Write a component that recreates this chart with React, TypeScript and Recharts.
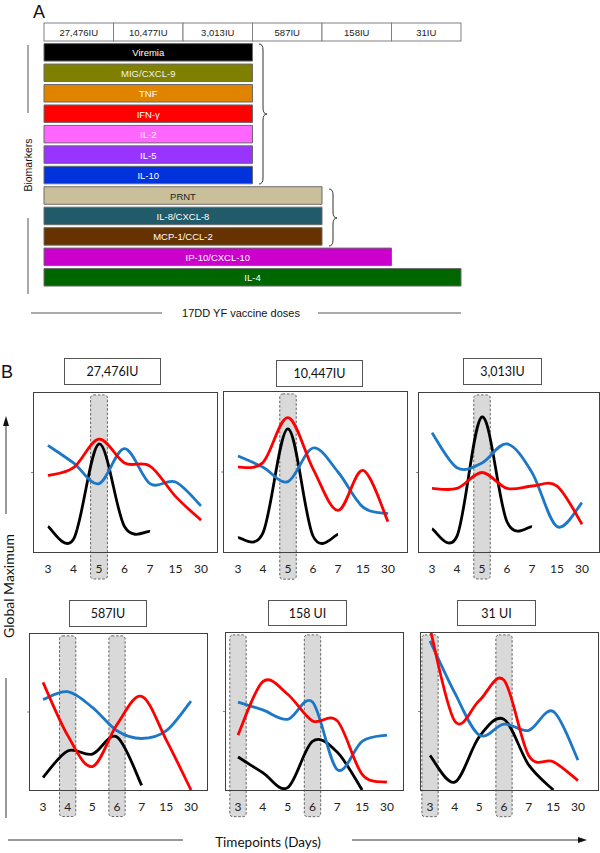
import React from "react";
import {
  BarChart,
  Bar,
  Cell,
  LabelList,
  LineChart,
  Line,
  XAxis,
  YAxis,
  ReferenceArea,
} from "recharts";

// ---- panel A data ----
const doseLabels = ["27,476IU", "10,477IU", "3,013IU", "587IU", "158IU", "31IU"];
const biomarkers = [
  "Viremia", "MIG/CXCL-9", "TNF", "IFN-γ", "IL-2", "IL-5", "IL-10",
  "PRNT", "IL-8/CXCL-8", "MCP-1/CCL-2", "IP-10/CXCL-10", "IL-4",
];
// how many dose columns each biomarker spans
const dosesCovered = [3, 3, 3, 3, 3, 3, 3, 4, 4, 4, 5, 6];

// ---- panel B data ----
const timepoints = ["3", "4", "5", "6", "7", "15", "30"];
const panelDoses = ["27,476IU", "10,447IU", "3,013IU", "587IU", "158 UI", "31 UI"];
const blackLine = [
  [16, 8, 68, 16, 13, null, null],
  [9, 12, 77, 10, 11, null, null],
  [14.5, 10, 85, 19, 16, null, null],
  [8, 25, 23, 34, 3, null, null],
  [21, 11, 1.5, 31, 24, 0, null],
  [22, 5, 34, 45, 16, 0, null],
]
const redLine = [
  [48, 53, 71, 56, 54, 35, 20],
  [53, 56, 84, 52, 26, 51, 19],
  [40, 40, 50, 40, 41.5, 41.5, 17.5],
  [69, 35, 15, 42, 60, 32, 0],
  [35, 69, 61, 44, 44, 10, 5],
  [103, 44, 57, 70, 22, 18, 6],
]
const blueLine = [
  [67, 56, 43, 65, 43, 44, 29],
  [60, 53, 44, 65, 50, 28, 24],
  [75, 53, 56, 68, 50, 16, 31],
  [58, 63, 53, 38, 33, 38, 57],
  [56, 51, 45, 56, 13, 31, 35],
  [95, 62, 35, 42, 38, 50, 19],
]
const highlightDays = [["5"], ["5"], ["5"], ["4", "6"], ["3", "6"], ["3", "6"]];

// ---- styles / layout ----
const barColors = [
  "#000000", "#7f7f00", "#e08400", "#ff0000", "#ff66ff", "#9933ff", "#0033dd",
  "#c9c09b", "#215a69", "#663300", "#cc00cc", "#006600",
];
const barInk = ["#fff", "#f2f2f2", "#fff", "#fff", "#fff", "#fff", "#fff", "#222", "#fff", "#fff", "#fff", "#fff"];

const panelBoxes = [
  { x0: 34, x1: 217, y0: 393, y1: 552, padL: 14, padR: 16, tick: 6, title: [64, 358, 97, 27] },
  { x0: 224, x1: 407, y0: 392, y1: 552, padL: 14, padR: 19, tick: 6, title: [276, 360, 87, 27] },
  { x0: 419, x1: 599, y0: 393, y1: 552, padL: 13, padR: 17, tick: 6, title: [463, 358, 79, 27] },
  { x0: 30, x1: 207, y0: 634, y1: 790, padL: 13, padR: 16, tick: 6, title: [69, 600, 78, 27] },
  { x0: 226, x1: 403, y0: 633, y1: 790, padL: 12, padR: 16, tick: 6, title: [268, 600, 79, 26] },
  { x0: 421, x1: 598, y0: 633, y1: 790, padL: 9, padR: 20, tick: 6, title: [457, 600, 79, 26] },
];

const FRAME = "#404040";
const BLUE = "#1c78c6";
const CAL = "Lato, 'Open Sans', sans-serif";
const ARIAL = "'Liberation Sans', Arial, sans-serif";

// Excel-like smoothed line (Catmull-Rom through the points)
const smoothCurve = (context: any) => {
  let pts: number[][] = [];
  return {
    areaStart() {},
    areaEnd() {},
    lineStart() {
      pts = [];
    },
    point(x: number, y: number) {
      pts.push([+x, +y]);
    },
    lineEnd() {
      if (!pts.length) return;
      context.moveTo(pts[0][0], pts[0][1]);
      for (let k = 0; k < pts.length - 1; k++) {
        const p0 = pts[k - 1] || pts[k];
        const p1 = pts[k];
        const p2 = pts[k + 1];
        const p3 = pts[k + 2] || p2;
        context.bezierCurveTo(
          p1[0] + (p2[0] - p0[0]) / 6, p1[1] + (p2[1] - p0[1]) / 6,
          p2[0] - (p3[0] - p1[0]) / 6, p2[1] - (p3[1] - p1[1]) / 6,
          p2[0], p2[1]
        );
      }
    },
  };
};

const BandShape = (p: any) => (
  <rect
    x={p.x} y={p.y} width={p.width} height={p.height} rx={3} ry={3}
    fill="#d9d9d9" stroke="#555" strokeWidth={0.9} strokeDasharray="2.5 1.8"
  />
);

const HEADER_W = 417 / 6;
const HeaderCell = (p: any) => {
  const label = doseLabels[Math.floor(p.payload.value)];
  return (
    <g>
      <rect x={p.x - HEADER_W / 2} y={23} width={HEADER_W} height={18} fill="#fff" stroke="#808080" strokeWidth={1} />
      <text x={p.x} y={32.5} textAnchor="middle" dominantBaseline="central" fontSize={9.5} fontFamily={ARIAL} fill="#222">
        {label}
      </text>
    </g>
  );
};

const BarName = (p: any) => (
  <text
    x={p.x + p.width / 2} y={p.y + p.height / 2 + 0.5} textAnchor="middle" dominantBaseline="central"
    fontSize={9.5} fontFamily={ARIAL} fill={barInk[p.index]}
  >
    {p.value}
  </text>
);

function PanelA() {
  const rows = biomarkers.map((name, k) => ({ name, doses: dosesCovered[k] }));
  return (
    <div style={{ position: "absolute", left: 0, top: 0 }}>
      <BarChart
        width={465} height={290} data={rows} layout="vertical"
        margin={{ top: 22, right: 4, bottom: 2, left: 44 }} barSize={17.5}
      >
        <XAxis
          type="number" orientation="top" domain={[0, 6]} ticks={[0.5, 1.5, 2.5, 3.5, 4.5, 5.5]}
          height={20.6} axisLine={false} tickLine={false} tick={HeaderCell} interval={0}
        />
        <YAxis type="category" dataKey="name" hide />
        <Bar dataKey="doses" stroke="#6b6b6b" strokeWidth={1} isAnimationActive={false}>
          {rows.map((r, k) => (
            <Cell key={r.name} fill={barColors[k]} />
          ))}
          <LabelList dataKey="name" content={BarName} />
        </Bar>
      </BarChart>
    </div>
  );
}

function DosePanel({ k }: { k: number }) {
  const lay = panelBoxes[k];
  const rows = timepoints.map((t, i) => ({
    i,
    black: blackLine[k][i],
    red: redLine[k][i],
    blue: blueLine[k][i],
  }));
  const w = lay.x1 - lay.x0;
  const h = lay.y1 - lay.y0;
  const mL = 1, yW = 4, mT = 2, mR = 3, xH = 32;
  const [tl, tt, tw, th] = lay.title;
  return (
    <>
      <div style={{ position: "absolute", left: lay.x0 - mL - yW, top: lay.y0 - mT }}>
        <LineChart
          width={w + mL + yW + mR} height={h + mT + xH} data={rows}
          margin={{ top: mT, right: mR, bottom: 0, left: mL }}
        >
          {highlightDays[k].map((d) => {
            const c = timepoints.indexOf(d);
            return (
              <ReferenceArea
                key={d} x1={c - 0.33} x2={c + 0.33} y1={-17} y2={98.8}
                ifOverflow="visible" shape={BandShape}
              />
            );
          })}
          <Line dataKey="black" type={smoothCurve as any} stroke="#000" strokeWidth={2.8} dot={false} isAnimationActive={false} />
          <Line dataKey="blue" type={smoothCurve as any} stroke={BLUE} strokeWidth={2.8} dot={false} isAnimationActive={false} />
          <Line dataKey="red" type={smoothCurve as any} stroke="#ff0000" strokeWidth={2.8} dot={false} isAnimationActive={false} />
          <XAxis
            dataKey="i" type="number" domain={[0, 6]} ticks={timepoints.map((_, i) => i)} interval={0}
            tickFormatter={(v: number) => timepoints[v]} padding={{ left: lay.padL, right: lay.padR }}
            height={xH} tickLine={false} tickMargin={lay.tick} axisLine={false}
            tick={{ fontSize: 12, fontFamily: CAL, fill: "#222" }}
          />
          <YAxis
            domain={[0, 100]} ticks={[50]} allowDataOverflow tickFormatter={() => ""} tickSize={3} width={yW}
            axisLine={false} tickLine={{ stroke: "#888" }}
          />
        </LineChart>
      </div>
      <div
        style={{
          position: "absolute", left: lay.x0 - 0.7, top: lay.y0 - 0.7, width: w + 1.4, height: h + 1.4,
          boxSizing: "border-box", border: `1.4px solid ${FRAME}`, pointerEvents: "none",
        }}
      />
      <div
        style={{
          position: "absolute", left: tl, top: tt, width: tw, height: th, boxSizing: "border-box",
          border: "1.5px solid #555", background: "#fff", display: "flex", alignItems: "center",
          justifyContent: "center", fontFamily: CAL, fontSize: 12.5, color: "#111",
        }}
      >
        {panelDoses[k]}
      </div>
    </>
  );
}

function Annotations() {
  const ink = "#333";
  return (
    <svg width={600} height={853} style={{ position: "absolute", left: 0, top: 0, pointerEvents: "none" }}>
      <text x={33} y={18} fontSize={18} fontFamily={ARIAL} fill="#111">A</text>
      {/* braces */}
      <path d="M259,44 Q263,44 263,50 L263,108 Q263,114 267,114 Q263,114 263,120 L263,178 Q263,184 259,184" fill="none" stroke={ink} strokeWidth={1} />
      <path d="M329,189 Q333,189 333,195 L333,212 Q333,218 337,218 Q333,218 333,224 L333,240 Q333,246 329,246" fill="none" stroke={ink} strokeWidth={1} />
      {/* biomarkers */}
      <line x1={28} y1={45} x2={28} y2={113} stroke="#555" strokeWidth={1} />
      <line x1={28} y1={218} x2={28} y2={294} stroke="#555" strokeWidth={1} />
      <text x={28} y={165} transform="rotate(-90 28 165)" textAnchor="middle" dominantBaseline="central" fontSize={10.5} fontFamily={ARIAL} fill="#111">
        Biomarkers
      </text>
      <line x1={31} y1={313} x2={162} y2={313} stroke="#555" strokeWidth={1} />
      <line x1={318} y1={313} x2={461} y2={313} stroke="#555" strokeWidth={1} />
      <text x={241} y={313} textAnchor="middle" dominantBaseline="central" fontSize={11} fontFamily={ARIAL} fill="#111">
        17DD YF vaccine doses
      </text>
      {/* panel B */}
      <text x={1} y={378} fontSize={18} fontFamily={ARIAL} fill="#111">B</text>
      <line x1={6} y1={514} x2={6} y2={424} stroke={ink} strokeWidth={1} />
      <polygon points="6,416 3,426 9,426" fill="#111" />
      <text x={8} y={586} transform="rotate(-90 8 586)" textAnchor="middle" dominantBaseline="central" fontSize={14} fontFamily={CAL} fill="#111">
        Global Maximum
      </text>
      <line x1={6} y1={678} x2={6} y2={818} stroke={ink} strokeWidth={1} />
      <line x1={8} y1={840} x2={183} y2={840} stroke={ink} strokeWidth={1} />
      <line x1={352} y1={840} x2={580} y2={840} stroke={ink} strokeWidth={1} />
      <polygon points="587,840 578,837 578,843" fill="#111" />
      <text x={268} y={842} textAnchor="middle" dominantBaseline="central" fontSize={13.5} fontFamily={CAL} fill="#111">
        Timepoints (Days)
      </text>
    </svg>
  );
}

export default function App() {
  return (
    <div style={{ position: "absolute", left: 0, top: 0, width: 600, height: 853, background: "#fff", overflow: "hidden" }}>
      <PanelA />
      {panelDoses.map((_, k) => (
        <DosePanel key={k} k={k} />
      ))}
      <Annotations />
    </div>
  );
}
